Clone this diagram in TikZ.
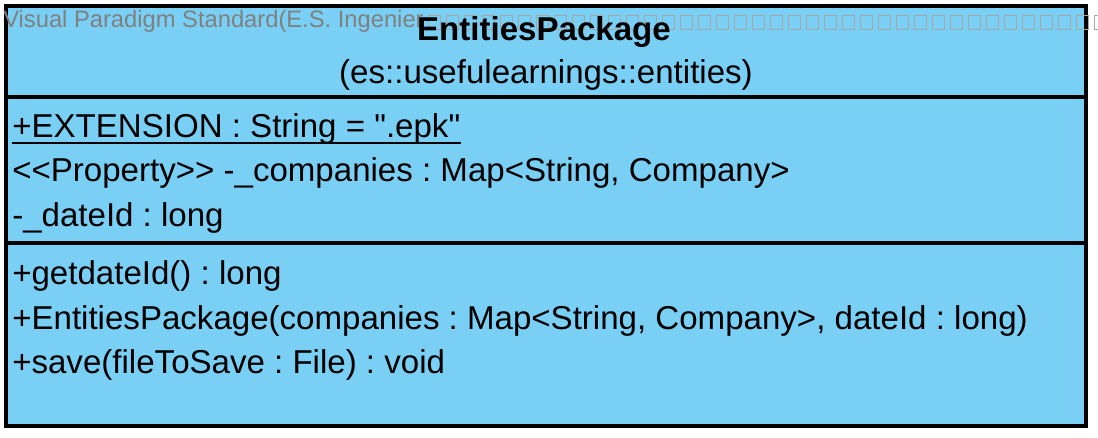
\documentclass[tikz,border=0pt]{standalone}
\usepackage{fontspec}
\setmainfont{Liberation Sans}[Ligatures=TeXOff]
\usetikzlibrary{positioning, calc}
\definecolor{classblue}{RGB}{122,207,245}
\definecolor{markgray}{RGB}{128,128,128}

\tikzset{
  classtext/.style={anchor=base west, inner sep=0pt, font=\fontsize{24.8}{28}\selectfont\frenchspacing},
  classtitle/.style={anchor=base, inner sep=0pt, font=\fontsize{24.8}{28}\selectfont\bfseries},
  watermark/.style={anchor=base west, inner sep=0pt, text=markgray, font=\fontsize{17.8}{20}\selectfont\frenchspacing},
  tofu/.style={draw=markgray!70, line width=0.5pt}
}

\begin{document}
\begin{tikzpicture}[x=0.75pt, y=-0.75pt]
	\useasboundingbox (0,0) rectangle (1098,438);
	% Class box
	\draw[fill=classblue, line width=2.4pt] (6,6) rectangle (1086,426);
	\draw[line width=2.4pt] (6,97) -- (1086,97);
	\draw[line width=2.4pt] (6,243) -- (1086,243);
	
	% Watermark
	\node[watermark] (mark) at (3,28) {Visual Paradigm Standard(E.S. Ingenier};
	\foreach \i in {0,...,37} {
		\draw[tofu] (428+\i*18,15) rectangle ++(12,14);
	}
	
	% Name compartment
	\node[classtitle] (name) at (544,41) {EntitiesPackage};
	\node[classtext, anchor=base] (pkg) at (546,84) {(es::usefulearnings::entities)};
	
	% Attributes
	\node[classtext] (ext) at (12,138) {+EXTENSION : String = ".epk"};
	\draw[line width=1.6pt] ($(ext.base west)+(0,5)$) -- ($(ext.base east)+(0,5)$);
	\node[classtext] (comp) at (12,182) {<<Property>> -\_companies : Map<String, Company>};
	\node[classtext] (date) at (12,227) {-\_dateId : long};
	
	% Operations
	\node[classtext] (get) at (12,284) {+getdateId() : long};
	\node[classtext] (ctor) at (12,329) {+EntitiesPackage(companies : Map<String, Company>, dateId : long)};
	\node[classtext] (save) at (12,373) {+save(fileToSave : File) : void};
\end{tikzpicture}
\end{document}
